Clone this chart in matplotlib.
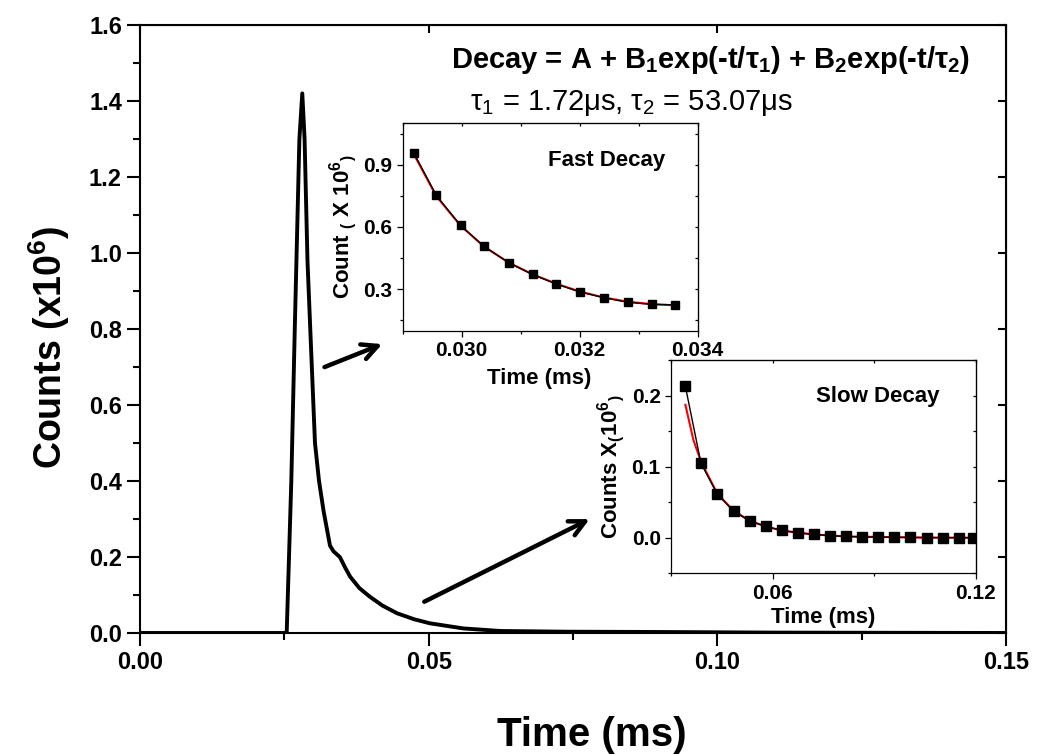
import matplotlib
matplotlib.use("Agg")
import matplotlib.pyplot as plt
from matplotlib.ticker import MultipleLocator, NullFormatter

plt.rcParams['font.family'] = ['Liberation Sans', 'DejaVu Sans']
plt.rcParams['mathtext.default'] = 'regular'

# main decay curve (time in ms, counts x1e6)
t_main = [0.0, 0.0254, 0.0262, 0.0268, 0.0276, 0.0281, 0.0285, 0.0290, 0.0297,
          0.0303, 0.0310, 0.0318, 0.0329, 0.0335, 0.0346, 0.0356, 0.0364,
          0.0380, 0.0398, 0.0420, 0.0445, 0.0475, 0.0502, 0.0560, 0.0624,
          0.0739, 0.0901, 0.1100, 0.1500]
c_main = [0.0, 0.0, 0.40, 0.80, 1.30, 1.42, 1.30, 0.98, 0.72, 0.50, 0.40,
          0.32, 0.23, 0.215, 0.20, 0.17, 0.148, 0.118, 0.0955, 0.072,
          0.052, 0.036, 0.0255, 0.012, 0.0053, 0.0034, 0.0026, 0.001, 0.0]

# fast decay inset
t_fast = [0.02919, 0.02957, 0.02998, 0.03038, 0.0308, 0.0312, 0.0316,
          0.0320, 0.03241, 0.03281, 0.03322, 0.03361]
c_fast = [0.956, 0.752, 0.608, 0.506, 0.427, 0.371, 0.325, 0.287, 0.259,
          0.237, 0.227, 0.225]
fit_fast = [0.950, 0.748, 0.606, 0.505, 0.428, 0.372, 0.327, 0.289, 0.260,
            0.240, 0.228, 0.222]

# slow decay inset
t_slow = [0.03423, 0.03885, 0.04367, 0.0485, 0.05321, 0.05793, 0.06265,
          0.06757, 0.0723, 0.07692, 0.08164, 0.08646, 0.09118, 0.096,
          0.1007, 0.1056, 0.1104, 0.1151, 0.1192]
c_slow = [0.213, 0.1046, 0.0612, 0.0372, 0.0236, 0.016, 0.0104, 0.0066,
          0.0047, 0.0028, 0.0019, 0.001, 0.001, 0.0005, 0.0005, 0.0, 0.0,
          0.0, 0.0]
t_slow_fit = [0.03423, 0.0366, 0.03885, 0.04367, 0.0485, 0.05321, 0.05793,
              0.06265, 0.0723, 0.08164, 0.1007, 0.1200]
c_slow_fit = [0.187, 0.1375, 0.107, 0.062, 0.038, 0.024, 0.0158, 0.0102,
              0.0045, 0.0018, 0.0004, 0.0]


def style_ticks(ax, size, width, lsize, xminor, yminor):
    ax.tick_params(which='both', direction='out', width=width,
                   labelsize=lsize, top=False, right=False)
    ax.tick_params(which='major', length=size)
    ax.tick_params(which='minor', length=size * 0.5)
    for lab in ax.get_xticklabels() + ax.get_yticklabels():
        lab.set_fontweight('bold')
    # inward ticks on top/right, no labels
    sec_x = ax.secondary_xaxis('top')
    sec_y = ax.secondary_yaxis('right')
    sec_x.xaxis.set_major_locator(MultipleLocator(xminor))
    sec_y.yaxis.set_major_locator(MultipleLocator(yminor))
    for sec, axis in ((sec_x, sec_x.xaxis), (sec_y, sec_y.yaxis)):
        axis.set_major_formatter(NullFormatter())
        sec.tick_params(which='both', direction='in', width=width,
                        length=size * 0.6)


fig = plt.figure(figsize=(10.42, 7.55), dpi=100)

ax = fig.add_axes([0.1344, 0.1616, 0.8311, 0.8053])
ax.plot(t_main, c_main, color='black', lw=2.8, solid_joinstyle='round')
ax.set_xlim(0, 0.15)
ax.set_ylim(0, 1.6)
ax.xaxis.set_major_locator(MultipleLocator(0.05))
ax.xaxis.set_minor_locator(MultipleLocator(0.025))
ax.yaxis.set_major_locator(MultipleLocator(0.2))
ax.yaxis.set_minor_locator(MultipleLocator(0.1))
ax.xaxis.set_major_formatter(plt.FormatStrFormatter('%.2f'))
ax.yaxis.set_major_formatter(plt.FormatStrFormatter('%.1f'))
for s in ax.spines.values():
    s.set_linewidth(1.5)
style_ticks(ax, 9.5, 1.5, 17, 0.05, 0.2)
ax.set_xlabel('Time (ms)', fontsize=29, fontweight='bold', labelpad=30)
ax.set_ylabel('Counts (x10$^6$)', fontsize=27, fontweight='bold',
              labelpad=12)
ax.xaxis.label.set_x(0.522)
ax.yaxis.label.set_y(0.47)

ax.text(0.659, 0.942, 'Decay = A + B$_1$exp(-t/τ$_1$) + B$_2$exp(-t/τ$_2$)',
        transform=ax.transAxes, ha='center', va='center', fontsize=21,
        fontweight='bold')
ax.text(0.568, 0.872, 'τ$_1$ = 1.72μs, τ$_2$ = 53.07μs',
        transform=ax.transAxes, ha='center', va='center', fontsize=21)

arrow = dict(arrowstyle='->', color='black', lw=3.2, mutation_scale=28)
ax.annotate('', xy=(0.0424, 0.763), xytext=(0.0315, 0.697), arrowprops=arrow)
ax.annotate('', xy=(0.0783, 0.303), xytext=(0.0488, 0.079), arrowprops=arrow)

# fast decay inset
ax1 = fig.add_axes([0.3865, 0.562, 0.2831, 0.2747])
ax1.plot(t_fast, fit_fast, color='red', lw=1.5)
ax1.plot(t_fast, c_fast, color='black', lw=1, marker='s', ms=6)
ax1.set_xlim(0.029, 0.034)
ax1.set_ylim(0.1, 1.1)
ax1.xaxis.set_major_locator(MultipleLocator(0.002))
ax1.xaxis.set_minor_locator(MultipleLocator(0.001))
ax1.yaxis.set_major_locator(MultipleLocator(0.3))
ax1.yaxis.set_minor_locator(MultipleLocator(0.15))
ax1.xaxis.set_major_formatter(plt.FormatStrFormatter('%.3f'))
ax1.yaxis.set_major_formatter(plt.FormatStrFormatter('%.1f'))
for s in ax1.spines.values():
    s.set_linewidth(0.9)
style_ticks(ax1, 4, 0.9, 15, 0.001, 0.15)
ax1.set_xlabel('Time (ms)', fontsize=16, fontweight='bold', labelpad=6)
ax1.set_ylabel('Count $_($ X 10$^6$$_)$', fontsize=16, fontweight='bold',
               labelpad=3)
ax1.xaxis.label.set_x(0.463)
ax1.text(0.69, 0.82, 'Fast Decay', transform=ax1.transAxes, ha='center',
         va='center', fontsize=16, fontweight='bold')

# slow decay inset
ax2 = fig.add_axes([0.644, 0.2407, 0.2924, 0.2825])
ax2.plot(t_slow_fit, c_slow_fit, color='red', lw=1.5)
ax2.plot(t_slow, c_slow, color='black', lw=1, marker='s', ms=7)
ax2.set_xlim(0.03, 0.12)
ax2.set_ylim(-0.05, 0.25)
ax2.xaxis.set_major_locator(MultipleLocator(0.06))
ax2.xaxis.set_minor_locator(MultipleLocator(0.03))
ax2.yaxis.set_major_locator(MultipleLocator(0.1))
ax2.yaxis.set_minor_locator(MultipleLocator(0.05))
ax2.xaxis.set_major_formatter(plt.FormatStrFormatter('%.2f'))
ax2.yaxis.set_major_formatter(plt.FormatStrFormatter('%.1f'))
for s in ax2.spines.values():
    s.set_linewidth(0.9)
style_ticks(ax2, 4, 0.9, 15, 0.03, 0.05)
ax2.set_xlabel('Time (ms)', fontsize=16, fontweight='bold', labelpad=3)
ax2.set_ylabel('Counts X$_($10$^6$$_)$', fontsize=16, fontweight='bold',
               labelpad=3)
ax2.text(0.68, 0.83, 'Slow Decay', transform=ax2.transAxes, ha='center',
         va='center', fontsize=16, fontweight='bold')

fig.savefig('out.png', dpi=100)
